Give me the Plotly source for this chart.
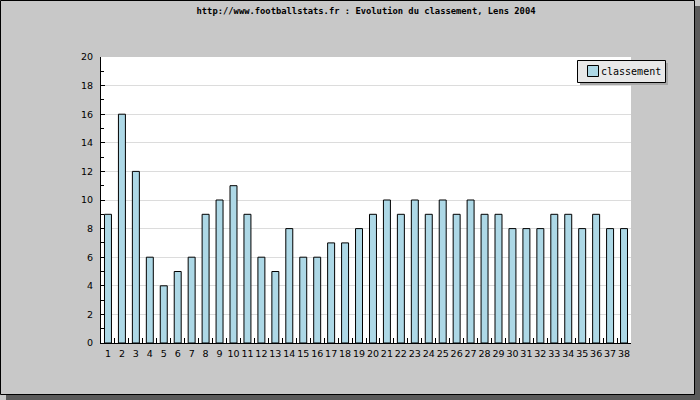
import plotly.graph_objects as go

journees = ["1", "2", "3", "4", "5", "6", "7", "8", "9", "10",
            "11", "12", "13", "14", "15", "16", "17", "18", "19", "20",
            "21", "22", "23", "24", "25", "26", "27", "28", "29", "30",
            "31", "32", "33", "34", "35", "36", "37", "38"]
classement = [9, 16, 12, 6, 4, 5, 6, 9, 10, 11,
              9, 6, 5, 8, 6, 6, 7, 7, 8, 9,
              10, 9, 10, 9, 10, 9, 10, 9, 9, 8,
              8, 8, 9, 9, 8, 9, 8, 8]
y_ticks = [0, 2, 4, 6, 8, 10, 12, 14, 16, 18, 20]
serie_nom = "classement"
bar_color = "#add8e6"

W, H = 700, 400
L, R, T, B = 101, 69, 57, 57
PW, PH = W - L - R, H - T - B


def px(x):
    return (x - L) / PW


def py(y):
    return (H - B - y) / PH


fig = go.Figure()
fig.add_trace(go.Bar(
    x=journees, y=classement, name=serie_nom,
    marker=dict(color=bar_color, line=dict(color="black", width=1)),
    width=0.5, showlegend=False,
))

shapes = [
    # shadow
    dict(type="rect", xref="paper", yref="paper", x0=px(694), x1=px(700), y0=py(6), y1=py(400),
         fillcolor="#5a5a5a", line=dict(width=0), layer="below"),
    dict(type="rect", xref="paper", yref="paper", x0=px(6), x1=px(700), y0=py(394), y1=py(400),
         fillcolor="#5a5a5a", line=dict(width=0), layer="below"),
    # border
    dict(type="rect", xref="paper", yref="paper", x0=px(0.5), x1=px(694.5), y0=py(0.5), y1=py(394.5),
         fillcolor="rgba(0,0,0,0)", line=dict(color="black", width=1), layer="above"),
    # legend shadow
    dict(type="rect", xref="paper", yref="paper", x0=px(580), x1=px(668), y0=py(63), y1=py(85),
         fillcolor="#a8a8a8", line=dict(width=0), layer="above"),
    # legend box
    dict(type="rect", xref="paper", yref="paper", x0=px(577.5), x1=px(665.5), y0=py(60.5), y1=py(82.5),
         fillcolor="#e8e8e8", line=dict(color="black", width=1), layer="above"),
    # legend symbol
    dict(type="rect", xref="paper", yref="paper", x0=px(587.5), x1=px(598.5), y0=py(65.5), y1=py(76.5),
         fillcolor=bar_color, line=dict(color="black", width=1), layer="above"),
]

annotations = [
    dict(text=serie_nom, xref="paper", yref="paper", x=px(599), y=py(71.5),
         xanchor="left", yanchor="middle", showarrow=False,
         font=dict(family="DejaVu Sans Mono", size=10, color="black")),
]

fig.update_layout(
    width=W, height=H,
    margin=dict(l=L, r=R, t=T, b=B, pad=0),
    paper_bgcolor="#c8c8c8",
    plot_bgcolor="white",
    title=dict(text="<b>http://www.footballstats.fr : Evolution du classement, Lens 2004</b>",
               x=0.5, xref="paper", xanchor="center", y=1 - 11 / H, yanchor="middle",
               font=dict(family="DejaVu Sans Mono", size=8.8, color="black")),
    font=dict(family="DejaVu Sans", size=9.5, color="black"),
    bargap=0.5,
    showlegend=False,
    shapes=shapes,
    annotations=annotations,
    xaxis=dict(type="category", showline=True, linecolor="black", linewidth=1,
               ticks="inside", ticklen=5, tickcolor="black", tickson="boundaries",
               showgrid=False, tickfont=dict(size=9.5), tickangle=0, ticklabelstandoff=2,
               range=[-0.5, 37.5]),
    yaxis=dict(range=[0, 20], tickvals=y_ticks, showline=True, linecolor="black", linewidth=1,
               ticks="inside", ticklen=4, tickcolor="black",
               minor=dict(dtick=1, ticks="inside", ticklen=3, tickcolor="black", showgrid=False),
               showgrid=True, gridcolor="#dcdcdc", gridwidth=1, zeroline=False,
               tickfont=dict(size=9.5), ticklabelstandoff=5),
)

fig.write_html("out.html", config={"displayModeBar": False, "staticPlot": True},
               post_script="document.body.style.margin='0';")
